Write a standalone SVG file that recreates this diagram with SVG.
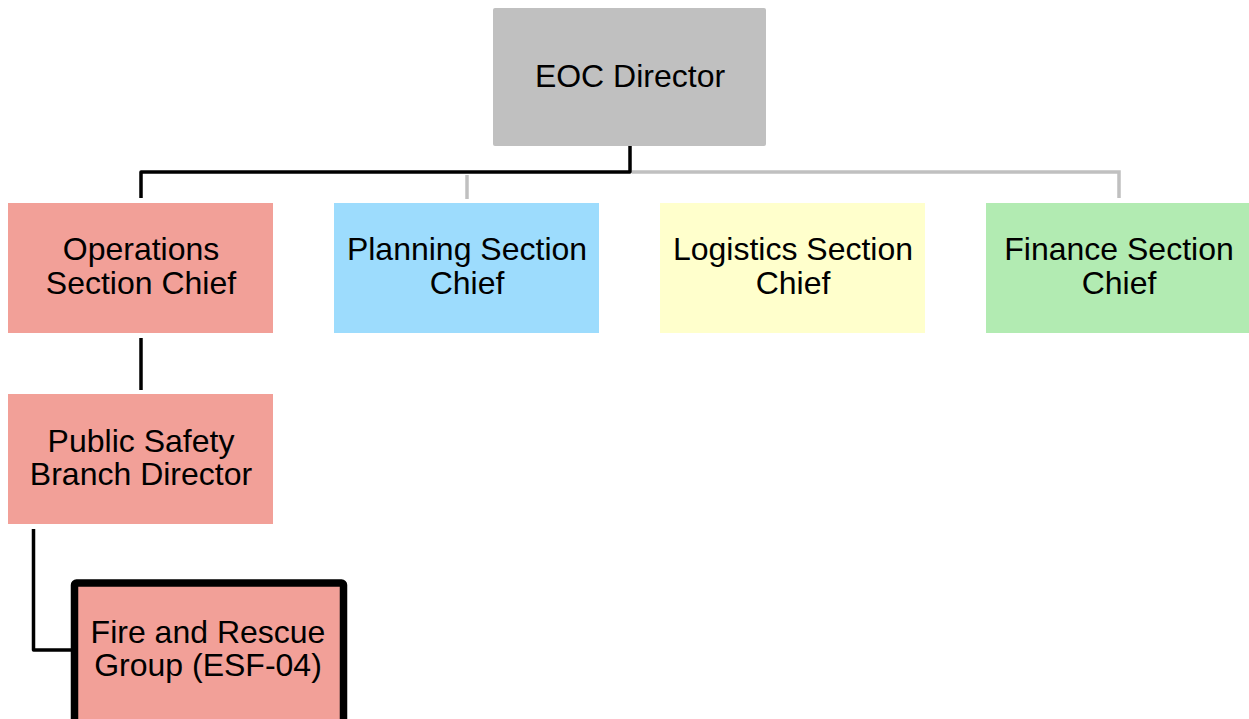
<svg xmlns="http://www.w3.org/2000/svg" width="1249" height="719" viewBox="0 0 1249 719">
<style>
text{font-family:"Liberation Sans",Arial,sans-serif;font-size:32px;fill:#000;text-anchor:middle}
.blk{fill:none;stroke:#000;stroke-width:3.5;stroke-linejoin:round}
.gry{fill:none;stroke:#c0c0c0;stroke-width:3.5}
</style>
<rect width="1249" height="719" fill="#fff"/>
<g id="connectors">
<path class="gry" d="M632 172 H1119 V198"/>
<path class="gry" d="M467 175 V199"/>
<path class="blk" d="M630 146 V172 H141 V198"/>
<path class="blk" d="M141 338 V390"/>
<path class="blk" d="M33.5 529 V650 H72"/>
</g>
<g id="eoc"><rect x="493" y="8" width="273" height="138" rx="2" fill="#c0c0c0"/><text x="630" y="87">EOC Director</text></g>
<g id="ops"><rect x="8" y="203" width="265" height="130" fill="#f2a098"/><text x="141" y="260">Operations</text><text x="141" y="294">Section Chief</text></g>
<g id="planning"><rect x="334" y="203" width="265" height="130" fill="#9ddcfd"/><text x="467" y="260">Planning Section</text><text x="467" y="294">Chief</text></g>
<g id="logistics"><rect x="660" y="203" width="265" height="130" fill="#ffffcc"/><text x="793" y="260">Logistics Section</text><text x="793" y="294">Chief</text></g>
<g id="finance"><rect x="986" y="203" width="263" height="130" fill="#b2ebb2"/><text x="1119" y="260">Finance Section</text><text x="1119" y="294">Chief</text></g>
<g id="psb"><rect x="8" y="394" width="265" height="130" fill="#f2a098"/><text x="141" y="452">Public Safety</text><text x="141" y="485">Branch Director</text></g>
<g id="fire"><rect x="74.5" y="583" width="269" height="150" rx="2" fill="#f2a098" stroke="#000" stroke-width="7.5"/><text x="208" y="643">Fire and Rescue</text><text x="208" y="676">Group (ESF-04)</text></g>
</svg>
